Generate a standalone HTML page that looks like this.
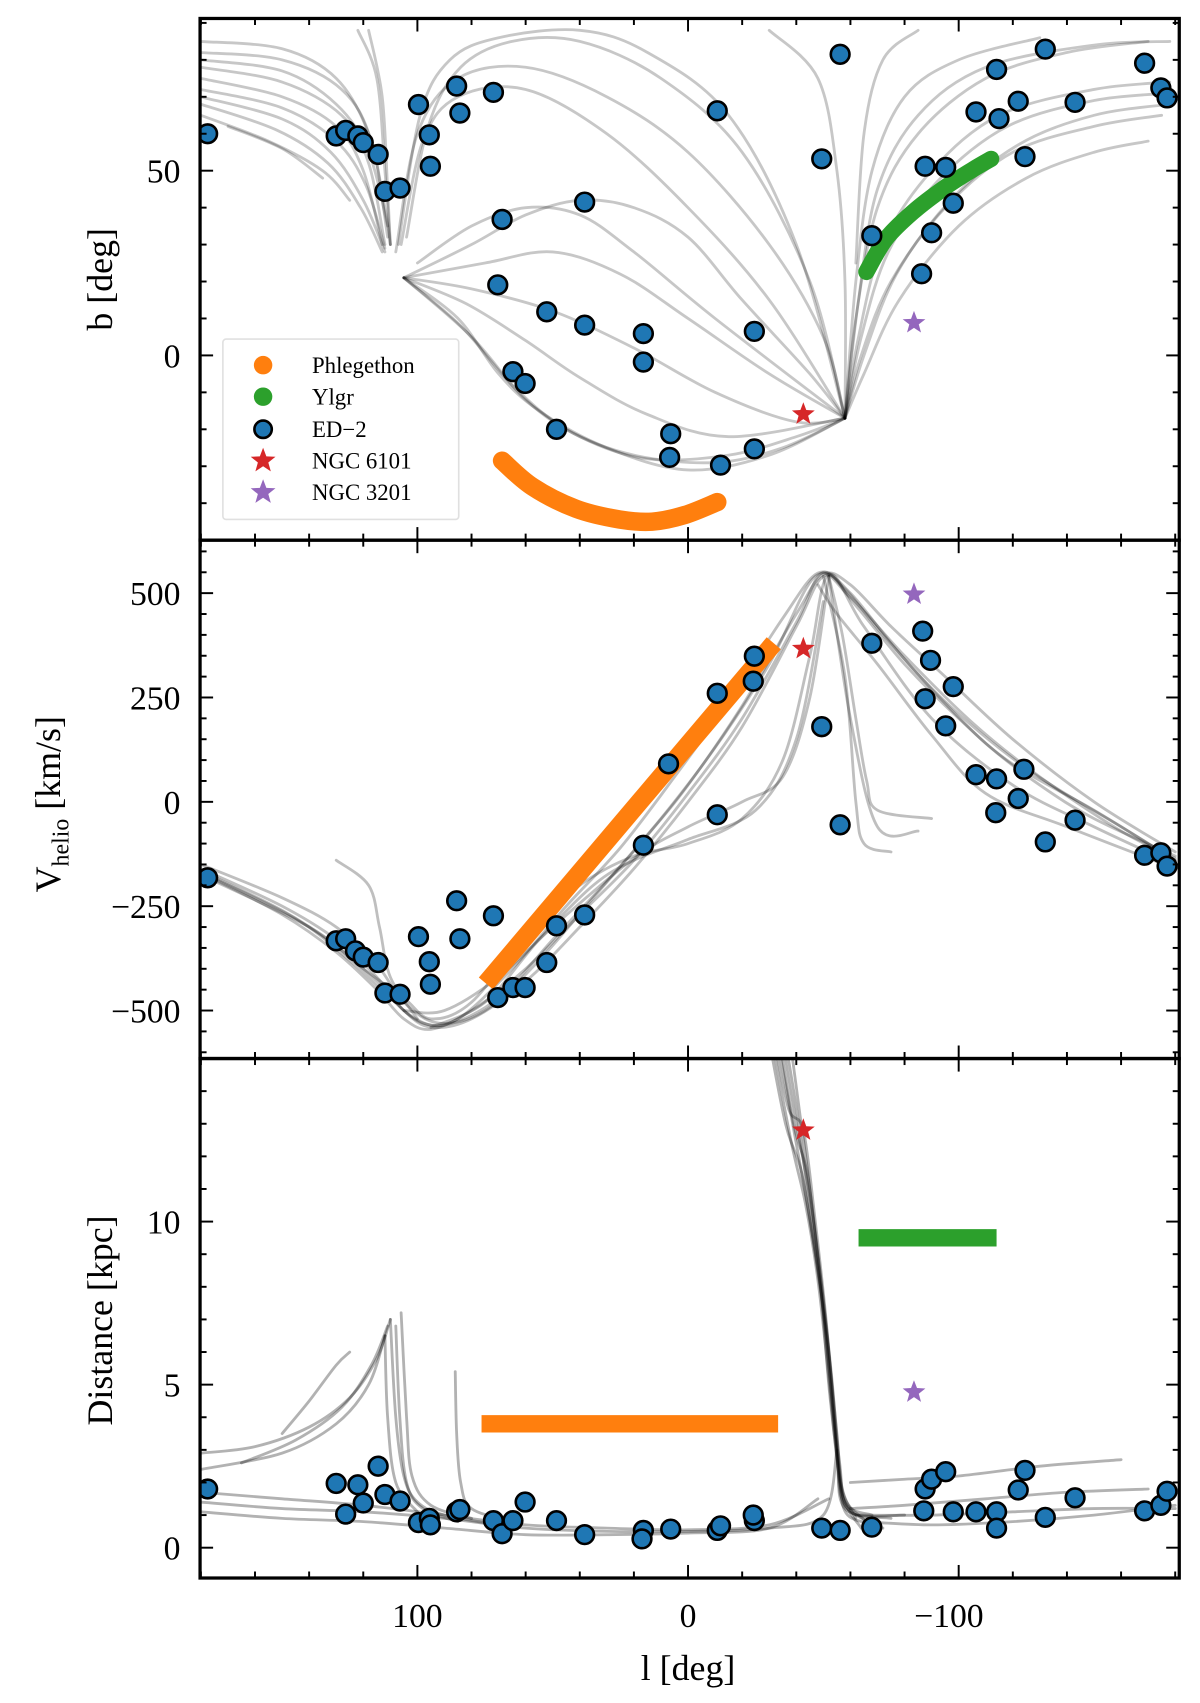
<!DOCTYPE html>
<html><head><meta charset="utf-8"><style>
html,body{margin:0;padding:0;background:#fff}
svg{display:block}
text{font-family:"Liberation Serif","DejaVu Serif",serif}
</style></head><body>
<svg id="chart" xmlns="http://www.w3.org/2000/svg" width="1200" height="1703" viewBox="0 0 1104 1567"></svg>
<script>
// ---------- DATA ----------
const xTicks=[100,0,-100];
const xTickLabels=["100","0","\u2212100"];
const p1Ticks=[50,0];const p1TickLabels=["50","0"];
const p2Ticks=[500,250,0,-250,-500];const p2TickLabels=["500","250","0","\u2212250","\u2212500"];
const p3Ticks=[10,5,0];const p3TickLabels=["10","5","0"];

const ed2L_b=[177.5,130,126.5,122,120,114.5,112,106.4,99.6,95.6,95.2,85.5,84.3,71.9,68.7,70.3,64.7,60.2,52.2,48.6,38.2,38.2,16.5,16.5,6.4,6.8,-10.8,-12,-24.5,-24.5,-49.4,-56.2,-67.9,-87.6,-86.3,-90,-95.2,-98,-106.4,-114,-114.9,-122,-124.5,-132,-143,-168.7,-174.7,-177];
const ed2B=[60,59.4,60.9,59.4,57.6,54.4,44.4,45.3,67.9,59.7,51.2,72.9,65.6,71.2,36.8,19.1,-4.4,-7.6,11.8,-20,41.5,8.2,5.9,-1.8,-21.2,-27.6,66.2,-29.7,6.5,-25.3,53.2,81.5,32.4,51.2,22.1,33.2,50.9,41.2,65.9,77.4,64.1,68.8,53.8,82.9,68.5,79.1,72.4,69.7];
const ed2L_v=[177.5,130,126.5,122.9,120,114.5,112,106.4,99.6,95.6,95.2,85.5,84.3,71.9,70.3,64.7,60.2,52.2,48.6,38.2,16.5,7.2,-10.8,-10.8,-24.1,-24.5,-49.4,-56.2,-67.9,-86.7,-89.6,-87.6,-98,-95.2,-106.4,-114,-113.7,-122,-124.1,-132,-143,-168.7,-174.7,-177];
const ed2V=[-182,-333,-328,-357,-372,-385,-458,-461,-323,-383,-437,-237,-328,-273,-469,-445,-445,-385,-297,-271,-104,91,260,-31,289,349,180,-55,380,409,339,247,276,182,65,55,-26,8,78,-96,-44,-128,-122,-154];
const ed2L_d=[177.5,130,126.5,122,120,114.5,112,106.4,99.6,95.6,95.2,85.5,84.3,71.9,68.7,64.7,60.2,48.6,38.2,16.5,17,6.4,-10.8,-12,-24.5,-24.1,-49.4,-56.2,-67.9,-87.6,-87.1,-90,-95.2,-98,-106.4,-114,-114,-122,-124.5,-132,-143,-168.7,-174.7,-177];
const ed2D=[1.8,1.97,1.03,1.93,1.37,2.5,1.63,1.43,0.77,0.9,0.7,1.1,1.17,0.83,0.43,0.83,1.4,0.83,0.4,0.53,0.27,0.57,0.53,0.67,0.83,1.0,0.6,0.53,0.63,1.8,1.13,2.1,2.33,1.1,1.1,1.1,0.6,1.77,2.37,0.93,1.53,1.13,1.3,1.73];

const ngc6101=[-42.6,-15.9,367,12.8];
const ngc3201=[-83.5,8.8,497,4.77];

const phlegL=[68.7,57.4,41.4,25.3,13.3,1.2,-10.8];
const phlegB=[-28.5,-35.6,-41.5,-44.4,-45,-43.2,-39.7];
const phlegVL=[74.7,-31.7];const phlegV=[-435,380];
const phlegDL=[76.3,-33.3];const phlegD=[3.8,3.8];
const ylgrL=[-65.9,-73.1,-83.1,-95.2,-105.2,-112];
const ylgrB=[22.6,31.5,38.8,45.6,50.3,53.2];
const ylgrDL=[-63,-114];const ylgrD=[9.5,9.5];

// orbit tracks [l,value]
const orbits1=[
[[180,85],[150,83],[130,75],[118,60],[112,40],[110,30]],
[[180,80],[150,77],[130,68],[118,55],[111,35]],
[[180,75],[150,70],[130,62],[120,50],[113,30]],
[[180,70],[150,64],[132,55],[120,42],[112,28]],
[[180,65],[155,58],[135,50],[125,42]],
[[180,82],[150,80],[128,72],[117,58],[111,32]],
[[180,78],[150,74],[128,65],[118,52],[112,30]],
[[180,72],[150,67],[130,58],[119,46],[112,29]],
[[180,68],[152,61],[133,52],[121,40],[113,28]],
[[170,62],[150,56],[135,48]],
[[118,88],[113,70],[111,45],[110,30]],
[[122,88],[115,75],[112,50],[110,30]],
[[108,28],[100,60],[85,75],[60,78],[30,70],[0,55],[-30,30],[-50,5],[-58,-17]],
[[106,30],[98,58],[85,70],[60,72],[30,60],[0,40],[-30,15],[-58,-17]],
[[104,32],[96,62],[84,78],[65,85],[40,85],[10,75],[-20,55],[-45,20],[-58,-17]],
[[107,30],[99,65],[88,80],[70,86],[40,88],[15,82],[-15,65],[-40,30],[-58,-17]],
[[105,21],[80,18],[50,12],[20,2],[-10,-10],[-40,-18],[-58,-17]],
[[105,21],[80,30],[60,38],[40,42],[20,40],[0,32],[-20,15],[-45,-5],[-58,-17]],
[[105,21],[85,10],[70,-5],[55,-15],[30,-25],[0,-31],[-30,-27],[-58,-17]],
[[105,21],[80,5],[60,-12],[40,-22],[15,-28],[-15,-27],[-40,-22],[-58,-17]],
[[105,21],[75,25],[50,28],[25,22],[0,10],[-30,-5],[-58,-17]],
[[100,25],[80,35],[60,40],[40,38],[20,28],[-10,10],[-58,-17]],
[[105,21],[82,14],[60,4],[40,-6],[15,-16],[-15,-22],[-58,-17]],
[[105,21],[84,8],[65,-8],[45,-20],[20,-27],[-10,-29],[-35,-25],[-58,-17]],
[[-58,-17],[-62,10],[-70,40],[-85,60],[-110,75],[-140,82],[-170,85]],
[[-58,-17],[-63,5],[-72,30],[-90,50],[-115,65],[-150,72],[-178,74]],
[[-58,-17],[-64,0],[-75,20],[-95,40],[-120,55],[-150,62],[-175,65]],
[[-58,-17],[-65,-5],[-78,15],[-100,35],[-125,48],[-150,55],[-170,58]],
[[-58,-17],[-62,20],[-68,50],[-80,70],[-100,80],[-130,86]],
[[-58,-17],[-63,15],[-70,45],[-85,65],[-110,78],[-150,84],[-178,85]],
[[-58,-17],[-64,5],[-74,28],[-92,47],[-118,62],[-150,69],[-178,71]],
[[-58,-17],[-65,0],[-77,22],[-97,42],[-122,57],[-150,65],[-178,68]],
[[-30,88],[-48,75],[-55,50],[-58,20],[-58,-17]],
[[-62,25],[-65,60],[-72,80],[-85,88]]
];
const orbits2=[
[[180,-160],[150,-250],[130,-330],[115,-420],[105,-500],[95,-540],[80,-520],[60,-430],[40,-300],[20,-160],[0,0],[-20,180],[-40,420],[-50,540],[-60,500],[-75,380],[-90,270],[-110,140],[-130,40],[-150,-40],[-180,-130]],
[[180,-170],[150,-270],[130,-360],[115,-450],[105,-520],[95,-545],[80,-500],[60,-400],[40,-270],[20,-140],[0,20],[-20,200],[-40,430],[-50,550],[-62,470],[-80,330],[-100,200],[-120,90],[-150,-20],[-180,-140]],
[[180,-150],[150,-230],[130,-300],[115,-390],[105,-480],[92,-530],[75,-500],[55,-380],[35,-230],[15,-80],[0,40],[-20,230],[-40,450],[-50,545],[-60,520],[-75,420],[-95,300],[-120,150],[-150,0],[-180,-120]],
[[180,-175],[140,-300],[120,-400],[105,-470],[95,-520],[80,-480],[60,-320],[40,-200],[20,-130],[0,-100],[-20,-40],[-35,100],[-45,350],[-52,545],[-65,420],[-90,200],[-120,40],[-150,-60],[-180,-150]],
[[105,-500],[90,-500],[70,-420],[50,-300],[20,-135],[0,-60],[-20,0],[-35,60],[-45,250],[-52,540]],
[[95,-540],[75,-480],[55,-330],[35,-200],[20,-140],[0,-90],[-25,-20],[-40,150],[-50,480]],
[[180,-165],[150,-260],[130,-345],[115,-430],[103,-510],[90,-535],[70,-470],[50,-330],[30,-190],[10,-40],[-10,130],[-30,330],[-47,540],[-60,490],[-80,350],[-105,190],[-130,60],[-160,-70],[-180,-135]],
[[180,-168],[145,-280],[125,-380],[110,-470],[98,-530],[85,-520],[65,-400],[45,-250],[25,-110],[5,60],[-15,240],[-35,440],[-48,548],[-58,510],[-72,400],[-95,240],[-125,80],[-160,-60],[-180,-140]],
[[-50,540],[-58,300],[-62,0],[-65,-100],[-75,-120]],
[[-52,540],[-60,200],[-70,-60],[-85,-70]],
[[-52,540],[-57,400],[-62,200],[-66,50],[-70,-20],[-90,-40]],
[[100,-520],[110,-420],[114,-300],[118,-200],[130,-140]],
[[-48,520],[-55,450],[-70,330],[-90,160],[-110,20],[-140,-60],[-180,-160]]
];
const orbits3=[
[[-31,16],[-37,13.5],[-42.6,12.8],[-47,10],[-51,7],[-54,4],[-56,2],[-59,1],[-70,0.7]],
[[-33,16],[-39,13],[-44,11.5],[-48,9],[-52,6],[-55,3.5],[-57,1.8],[-62,0.9]],
[[-35,16],[-40,13.5],[-44,11],[-49,8],[-52,5.5],[-55,3],[-58,1.5],[-66,0.8]],
[[-29,16],[-36,13],[-42,11.5],[-47,9],[-51,6.5],[-54,3.8],[-57,1.6],[-64,0.6]],
[[-37,16],[-41,13.5],[-45,11],[-49,8],[-52,5],[-55,2.8],[-58,1.2],[-75,0.9]],
[[-32,16],[-38,13.3],[-43,11],[-48,8.5],[-52,6],[-55,3.2],[-58,1.4],[-68,1]],
[[-34,16],[-40,13],[-44.5,11],[-49,8.3],[-53,5.3],[-56,2.6],[-60,1.1],[-80,1]],
[[-30,16],[-38,12.5],[-43.5,10.5],[-48,8.2],[-52,5.2],[-55,2.7],[-58,1.3],[-72,0.6]],
[[180,2.9],[160,3.1],[140,3.7],[125,4.6],[115,5.8],[110,7]],
[[180,2.4],[150,2.9],[130,3.8],[118,5],[112,6.5]],
[[150,3.5],[140,4.5],[130,5.6],[125,6]],
[[165,2.6],[145,3.3],[128,4.3],[117,5.6],[111,6.8]],
[[110,7],[108,4],[105,2.2],[100,1.4],[90,1],[70,0.7]],
[[106,7.2],[104,4],[102,2.2],[95,1.3],[80,0.9]],
[[112,6.5],[111,4],[108,2],[100,1.1]],
[[108,6.8],[106.5,4],[104,2],[98,1.2],[85,0.8]],
[[86,5.4],[85.5,3.5],[84,2],[80,1.2],[65,0.8]],
[[180,1.4],[150,1.2],[120,1.1],[90,0.9],[60,0.6],[30,0.5],[0,0.5],[-30,0.6],[-50,1],[-55,3]],
[[180,1.1],[150,0.9],[120,0.8],[90,0.6],[60,0.4],[30,0.4],[0,0.45],[-30,0.6],[-48,1.5]],
[[180,1.7],[150,1.5],[120,1.3],[90,1],[60,0.7],[30,0.6],[0,0.55],[-30,0.7],[-52,1.5]],
[[-60,1.2],[-80,1.3],[-110,1.5],[-140,1.7],[-170,1.8]],
[[-60,2],[-80,2.1],[-100,2.2],[-130,2.5],[-160,2.7]],
[[-62,1],[-90,1],[-120,1.1],[-150,1.2],[-180,1.2]],
[[-65,0.8],[-90,0.7],[-120,0.8],[-150,1],[-180,1.3]]
];

// ---------- LAYOUT ----------
const X0=184,X1=1085;
const lMax=180.3,lMin=-181.5;
const panels=[
 {name:"sky-position-panel",top:17,bot:497,vTop:91.2,vBot:-50,ticks:p1Ticks,labels:p1TickLabels,minor:10},
 {name:"velocity-panel",top:497,bot:974,vTop:627,vBot:-615,ticks:p2Ticks,labels:p2TickLabels,minor:50},
 {name:"distance-panel",top:974,bot:1452,vTop:15,vBot:-0.93,ticks:p3Ticks,labels:p3TickLabels,minor:1}
];
const NS="http://www.w3.org/2000/svg";
const svg=document.getElementById('chart');
function el(tag,attrs,parent){const e=document.createElementNS(NS,tag);for(const k in attrs)e.setAttribute(k,attrs[k]);(parent||svg).appendChild(e);return e;}
function xs(l){return X0+(lMax-l)/(lMax-lMin)*(X1-X0);}
function ysF(p){return v=>p.top+(p.vTop-v)/(p.vTop-p.vBot)*(p.bot-p.top);}
function smoothPath(pts){
 if(pts.length<3){return "M"+pts.map(p=>p[0].toFixed(1)+","+p[1].toFixed(1)).join("L");}
 let d="M"+pts[0][0].toFixed(1)+","+pts[0][1].toFixed(1);
 for(let i=0;i<pts.length-1;i++){
  const p0=pts[i-1]||pts[i],p1=pts[i],p2=pts[i+1],p3=pts[i+2]||p2;
  const c1=[p1[0]+(p2[0]-p0[0])/6,p1[1]+(p2[1]-p0[1])/6];
  const c2=[p2[0]-(p3[0]-p1[0])/6,p2[1]-(p3[1]-p1[1])/6];
  d+="C"+c1.map(v=>v.toFixed(1)).join(",")+" "+c2.map(v=>v.toFixed(1)).join(",")+" "+p2[0].toFixed(1)+","+p2[1].toFixed(1);
 }
 return d;
}
function starPath(cx,cy,R){const r=R*0.42;let d="";for(let i=0;i<10;i++){const a=-Math.PI/2+i*Math.PI/5;const rr=i%2?r:R;d+=(i?"L":"M")+(cx+rr*Math.cos(a)).toFixed(1)+","+(cy+rr*Math.sin(a)).toFixed(1);}return d+"Z";}

const defs=el('defs',{});
panels.forEach((p,i)=>{const cp=el('clipPath',{id:'clip'+i},defs);el('rect',{x:X0,y:p.top,width:X1-X0,height:p.bot-p.top},cp);});

function drawOrbits(g,orbs,ys,alpha){
 orbs.forEach(o=>{
  const path=el('path',{d:smoothPath(o.map(q=>[xs(q[0]),ys(q[1])])),fill:'none',stroke:'rgba(0,0,0,'+alpha+')','stroke-width':2.6,'stroke-linecap':'round'},g);
  
  
 });
}
function drawPoints(g,L,V,ys){
 L.forEach((l,i)=>{
  const c=el('circle',{cx:xs(l),cy:ys(V[i]),r:8.6,fill:'#1f77b4',stroke:'#000','stroke-width':2.4},g);
  
  
 });
}
function drawStar(g,l,v,ys,color,name){
 const s=el('path',{d:starPath(xs(l),ys(v),11),fill:color},g);
 
 
}
function thickLine(g,L,V,ys,color,w,name,cap){
 const s=el('path',{d:smoothPath(L.map((l,i)=>[xs(l),ys(V[i])])),fill:'none',stroke:color,'stroke-width':w,'stroke-linecap':cap},g);
 
 
}

panels.forEach((p,i)=>{
 const ys=ysF(p);
 const g=el('g',{'clip-path':'url(#clip'+i+')'});
 
 
 if(i===0){
  drawOrbits(g,orbits1,ys,0.22);
  thickLine(g,phlegL,phlegB,ys,'#ff7f0e',17,'phlegethon-track','round');
  thickLine(g,ylgrL,ylgrB,ys,'#2ca02c',15,'ylgr-track','round');
  drawPoints(g,ed2L_b,ed2B,ys);
  drawStar(g,ngc6101[0],ngc6101[1],ys,'#d62728','ngc6101-marker');
  drawStar(g,ngc3201[0],ngc3201[1],ys,'#9467bd','ngc3201-marker');
 } else if(i===1){
  drawOrbits(g,orbits2,ys,0.25);
  thickLine(g,phlegVL,phlegV,ys,'#ff7f0e',17,'phlegethon-track','butt');
  drawPoints(g,ed2L_v,ed2V,ys);
  drawStar(g,ngc6101[0],ngc6101[2],ys,'#d62728','ngc6101-marker');
  drawStar(g,ngc3201[0],ngc3201[2],ys,'#9467bd','ngc3201-marker');
 } else {
  drawOrbits(g,orbits3,ys,0.3);
  thickLine(g,phlegDL,phlegD,ys,'#ff7f0e',16,'phlegethon-track','butt');
  thickLine(g,ylgrDL,ylgrD,ys,'#2ca02c',16,'ylgr-track','butt');
  drawPoints(g,ed2L_d,ed2D,ys);
  drawStar(g,ngc6101[0],ngc6101[3],ys,'#d62728','ngc6101-marker');
  drawStar(g,ngc3201[0],ngc3201[3],ys,'#9467bd','ngc3201-marker');
 }
 const tg=el('g',{stroke:'#000','stroke-width':1.8});
 
 
 for(let l=180;l>=-180;l-=20){const x=xs(l);const maj=(l%100===0);const len=maj?12:6;
  el('line',{x1:x,y1:p.bot,x2:x,y2:p.bot-len},tg);el('line',{x1:x,y1:p.top,x2:x,y2:p.top+len},tg);}
 const start=Math.ceil(p.vBot/p.minor)*p.minor;
 for(let v=start;v<=p.vTop;v+=p.minor){const y=ys(v);const maj=p.ticks.some(t=>Math.abs(t-v)<1e-6);const len=maj?12:6;
  if(y<p.top+2||y>p.bot-2)continue;
  el('line',{x1:X0,y1:y,x2:X0+len,y2:y},tg);el('line',{x1:X1,y1:y,x2:X1-len,y2:y},tg);}
 p.ticks.forEach((t,k)=>{const tx=el('text',{x:166,y:ys(t)+11,'text-anchor':'end','font-size':31},svg);tx.textContent=p.labels[k];
  
  });
 const fr=el('rect',{x:X0,y:p.top,width:X1-X0,height:p.bot-p.top,fill:'none',stroke:'#000','stroke-width':3});
 
 
});
xTicks.forEach((t,k)=>{const tx=el('text',{x:xs(t)-(t<0?9:0),y:1497,'text-anchor':'middle','font-size':31});tx.textContent=xTickLabels[k];
 
 });
</script>
<script>
(function(){
const NS="http://www.w3.org/2000/svg";const svg=document.getElementById('chart');
function el(tag,attrs,parent){const e=document.createElementNS(NS,tag);for(const k in attrs)e.setAttribute(k,attrs[k]);(parent||svg).appendChild(e);return e;}
let t=el('text',{x:633,y:1546,'text-anchor':'middle','font-size':33});t.textContent='l [deg]';


t=el('text',{x:0,y:0,transform:'translate(103,257) rotate(-90)','text-anchor':'middle','font-size':33});t.textContent='b [deg]';


t=el('text',{x:0,y:0,transform:'translate(55,740) rotate(-90)','text-anchor':'middle','font-size':33});
t.innerHTML='V<tspan font-size="22" dy="8">helio</tspan><tspan dy="-8"> [km/s]</tspan>';


t=el('text',{x:0,y:0,transform:'translate(103,1215) rotate(-90)','text-anchor':'middle','font-size':33});t.textContent='Distance [kpc]';


const lg=el('g',{});


el('rect',{x:205,y:312,width:217,height:166,rx:3,fill:'#fff',stroke:'#ddd','stroke-width':1.5,opacity:0.9},lg);
const names=['Phlegethon','Ylgr','ED\u22122','NGC 6101','NGC 3201'];
const ysL=[336,365,395,424,453];
function star(cx,cy,R){const r=R*0.42;let d="";for(let i=0;i<10;i++){const a=-Math.PI/2+i*Math.PI/5;const rr=i%2?r:R;d+=(i?"L":"M")+(cx+rr*Math.cos(a)).toFixed(1)+","+(cy+rr*Math.sin(a)).toFixed(1);}return d+"Z";}
names.forEach((n,i)=>{
 const g=el('g',{},lg);
 
 
 const y=ysL[i];
 if(i===0)el('circle',{cx:242,cy:y,r:8.5,fill:'#ff7f0e'},g);
 if(i===1)el('circle',{cx:242,cy:y,r:8.5,fill:'#2ca02c'},g);
 if(i===2)el('circle',{cx:242,cy:y,r:8,fill:'#1f77b4',stroke:'#000','stroke-width':2.4},g);
 if(i===3)el('path',{d:star(242,y,12),fill:'#d62728'},g);
 if(i===4)el('path',{d:star(242,y,12),fill:'#9467bd'},g);
 const tx=el('text',{x:287,y:y+7,'font-size':21},g);tx.textContent=n;
});
})();
</script>
</body></html>
